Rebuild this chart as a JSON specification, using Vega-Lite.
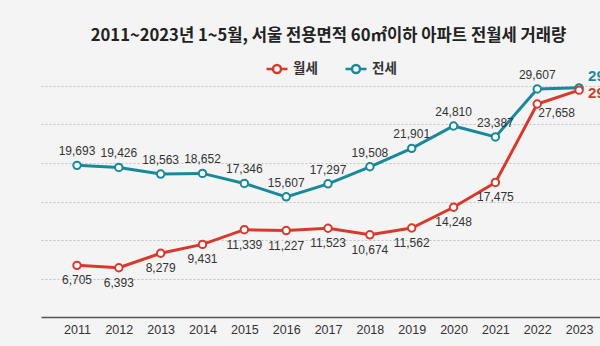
{
  "$schema": "https://vega.github.io/schema/vega-lite/v6.json",
  "autosize": {"type": "none"},
  "width": 559,
  "height": 231,
  "padding": {"left": 41, "top": 86, "right": 0, "bottom": 29},
  "background": "#f4f4f4",
  "title": {
    "text": "2011~2023년 1~5월, 서울 전용면적 60㎡이하 아파트 전월세 거래량",
    "font": "Noto Sans CJK KR",
    "fontSize": 16.6,
    "fontWeight": "bold",
    "color": "#222222",
    "anchor": "middle",
    "dx": 8,
    "offset": 12
  },
  "data": {
    "values": [
      {"year": 2011, "series": "전세", "value": 19693},
      {"year": 2012, "series": "전세", "value": 19426},
      {"year": 2013, "series": "전세", "value": 18563},
      {"year": 2014, "series": "전세", "value": 18652},
      {"year": 2015, "series": "전세", "value": 17346},
      {"year": 2016, "series": "전세", "value": 15607},
      {"year": 2017, "series": "전세", "value": 17297},
      {"year": 2018, "series": "전세", "value": 19508},
      {"year": 2019, "series": "전세", "value": 21901},
      {"year": 2020, "series": "전세", "value": 24810},
      {"year": 2021, "series": "전세", "value": 23387},
      {"year": 2022, "series": "전세", "value": 29607},
      {"year": 2023, "series": "전세", "value": 29760},
      {"year": 2011, "series": "월세", "value": 6705},
      {"year": 2012, "series": "월세", "value": 6393},
      {"year": 2013, "series": "월세", "value": 8279},
      {"year": 2014, "series": "월세", "value": 9431},
      {"year": 2015, "series": "월세", "value": 11339},
      {"year": 2016, "series": "월세", "value": 11227},
      {"year": 2017, "series": "월세", "value": 11523},
      {"year": 2018, "series": "월세", "value": 10674},
      {"year": 2019, "series": "월세", "value": 11562},
      {"year": 2020, "series": "월세", "value": 14248},
      {"year": 2021, "series": "월세", "value": 17475},
      {"year": 2022, "series": "월세", "value": 27658},
      {"year": 2023, "series": "월세", "value": 29460}
    ]
  },
  "encoding": {
    "x": {
      "field": "year",
      "type": "quantitative",
      "scale": {"domain": [2010.14, 2023.5], "nice": false, "zero": false},
      "axis": {
        "values": [2011, 2012, 2013, 2014, 2015, 2016, 2017, 2018, 2019, 2020, 2021, 2022, 2023],
        "format": "d",
        "title": null,
        "grid": false,
        "ticks": false,
        "domainColor": "#555555",
        "domainWidth": 1.5,
        "labelFont": "Liberation Sans",
        "labelFontSize": 12.5,
        "labelColor": "#333333",
        "labelPadding": 6
      }
    },
    "y": {
      "field": "value",
      "type": "quantitative",
      "scale": {"domain": [0, 30000], "nice": false},
      "axis": {
        "values": [5000, 10000, 15000, 20000, 25000, 30000],
        "title": null,
        "labels": false,
        "ticks": false,
        "domain": false,
        "grid": true,
        "gridDash": [2, 2],
        "gridColor": "#c4c4c4",
        "gridWidth": 1
      }
    }
  },
  "layer": [
    {
      "mark": {"type": "line", "strokeWidth": 3},
      "encoding": {
        "color": {
          "field": "series",
          "type": "nominal",
          "scale": {"domain": ["월세", "전세"], "range": ["#d9392b", "#18899a"]},
          "legend": {
            "title": null,
            "orient": "none",
            "legendX": 224,
            "legendY": -29,
            "direction": "horizontal",
            "symbolType": "M-1,0L-0.38,0M0.38,0L1,0M-0.38,0A0.38,0.38,0,1,1,0.38,0A0.38,0.38,0,1,1,-0.38,0Z",
            "symbolSize": 441,
            "symbolStrokeWidth": 2.5,
            "symbolFillColor": "#ffffff",
            "labelFont": "Noto Sans CJK KR",
            "labelFontSize": 13.5,
            "labelFontWeight": "bold",
            "labelColor": "#333333",
            "labelOffset": 4,
            "columnPadding": 22,
            "encode": {"symbols": {"update": {"fill": {"value": "#ffffff"}, "fillOpacity": {"value": 1}}}}
          }
        }
      }
    },
    {
      "mark": {"type": "point", "filled": false, "fill": "white", "fillOpacity": 1, "size": 55, "strokeWidth": 2, "opacity": 1},
      "encoding": {
        "color": {"field": "series", "type": "nominal", "legend": null}
      }
    },
    {
      "transform": [{"filter": "datum.series == '전세' && datum.year <= 2022"}],
      "mark": {"type": "text", "dy": -14, "font": "Liberation Sans", "fontSize": 12, "color": "#333333"},
      "encoding": {"text": {"field": "value", "type": "quantitative", "format": ","}}
    },
    {
      "transform": [{"filter": "datum.series == '월세' && datum.year <= 2021"}],
      "mark": {"type": "text", "dy": 15, "font": "Liberation Sans", "fontSize": 12, "color": "#333333"},
      "encoding": {"text": {"field": "value", "type": "quantitative", "format": ","}}
    },
    {
      "transform": [{"filter": "datum.series == '월세' && datum.year == 2022"}],
      "mark": {"type": "text", "align": "left", "dx": 1, "dy": 9, "font": "Liberation Sans", "fontSize": 12, "color": "#333333"},
      "encoding": {"text": {"field": "value", "type": "quantitative", "format": ","}}
    },
    {
      "transform": [{"filter": "datum.series == '전세' && datum.year == 2023"}],
      "mark": {"type": "text", "align": "left", "dx": 9, "dy": -12, "font": "Liberation Sans", "fontSize": 15, "fontWeight": "bold", "color": "#18899a"},
      "encoding": {"text": {"field": "value", "type": "quantitative", "format": ","}}
    },
    {
      "transform": [{"filter": "datum.series == '월세' && datum.year == 2023"}],
      "mark": {"type": "text", "align": "left", "dx": 9, "dy": 3, "font": "Liberation Sans", "fontSize": 15, "fontWeight": "bold", "color": "#d9392b"},
      "encoding": {"text": {"field": "value", "type": "quantitative", "format": ","}}
    }
  ],
  "config": {"view": {"stroke": null}}
}
